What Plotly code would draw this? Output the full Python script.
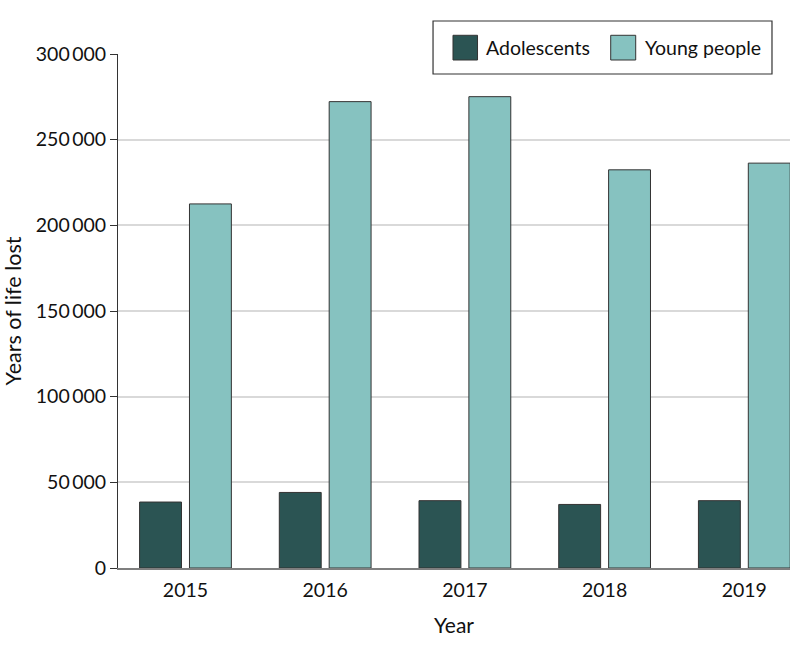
import plotly.graph_objects as go

years = ["2015", "2016", "2017", "2018", "2019"]
adolescents = [38500, 44100, 39300, 37100, 39300]
young_people = [212500, 272200, 275100, 232400, 236300]
y_tickvals = [0, 50000, 100000, 150000, 200000, 250000, 300000]
y_ticktext = ["0", "50\u2009000", "100\u2009000", "150\u2009000", "200\u2009000", "250\u2009000", "300\u2009000"]

series_names = ["Adolescents", "Young people"]
colors = ["#2b5453", "#86c2c0"]

FONT = "Lato"
fig = go.Figure()
for name, vals, col in zip(series_names, [adolescents, young_people], colors):
    fig.add_trace(go.Bar(x=years, y=vals, name=name, marker=dict(color=col, line=dict(color="#333333", width=1)),
                         showlegend=False))

fig.update_layout(
    width=798, height=654,
    margin=dict(l=118, r=8, t=54, b=86),
    paper_bgcolor="white", plot_bgcolor="white",
    barmode="group", bargap=0.286, bargroupgap=0.16,
    font=dict(family=FONT, size=19, color="#111111"),
    xaxis=dict(type="category", range=[-0.483, 4.327], showgrid=False, showline=True,
               linecolor="#7f7f7f", linewidth=2, ticks="", tickfont=dict(size=19.5),
               ticklabelstandoff=4,
               title=dict(text="Year", font=dict(size=21), standoff=18)),
    yaxis=dict(range=[0, 300000], tickvals=y_tickvals, ticktext=y_ticktext, showgrid=True,
               gridcolor="#d9d9d9", gridwidth=1.5, showline=True, linecolor="#333333", linewidth=1,
               ticks="outside", ticklen=7, tickcolor="#333333", zeroline=False,
               tickfont=dict(size=19.5),
               title=dict(text="Years of life lost", font=dict(size=21.5), standoff=10)),
)

# custom legend
x0, x1, y0, y1 = 0.4688, 0.9732, 0.9611, 1.0642
fig.add_shape(type="rect", xref="paper", yref="paper", x0=x0, x1=x1, y0=y0, y1=y1,
              line=dict(color="#333333", width=1.2), fillcolor="white", layer="above")
sq = [(0.4985, 0.5350), (0.7332, 0.7704)]
txt_x = [0.5451, 0.7808]
for (a, b), tx, name, col in zip(sq, txt_x, series_names, colors):
    fig.add_shape(type="rect", xref="paper", yref="paper", x0=a, x1=b, y0=0.9883, y1=1.0364,
                  line=dict(color="#333333", width=1), fillcolor=col, layer="above")
    fig.add_annotation(xref="paper", yref="paper", x=tx, y=1.0124, text=name, showarrow=False,
                       xanchor="left", yanchor="middle", font=dict(size=19.5, family=FONT, color="#111111"))

fig.write_html("out.html", config={"displayModeBar": False})
with open("out.html", "r", encoding="utf-8") as f:
    html = f.read()
html = html.replace("<head>", "<head><style>html,body{margin:0;padding:0;overflow:hidden;}</style>", 1)
with open("out.html", "w", encoding="utf-8") as f:
    f.write(html)
